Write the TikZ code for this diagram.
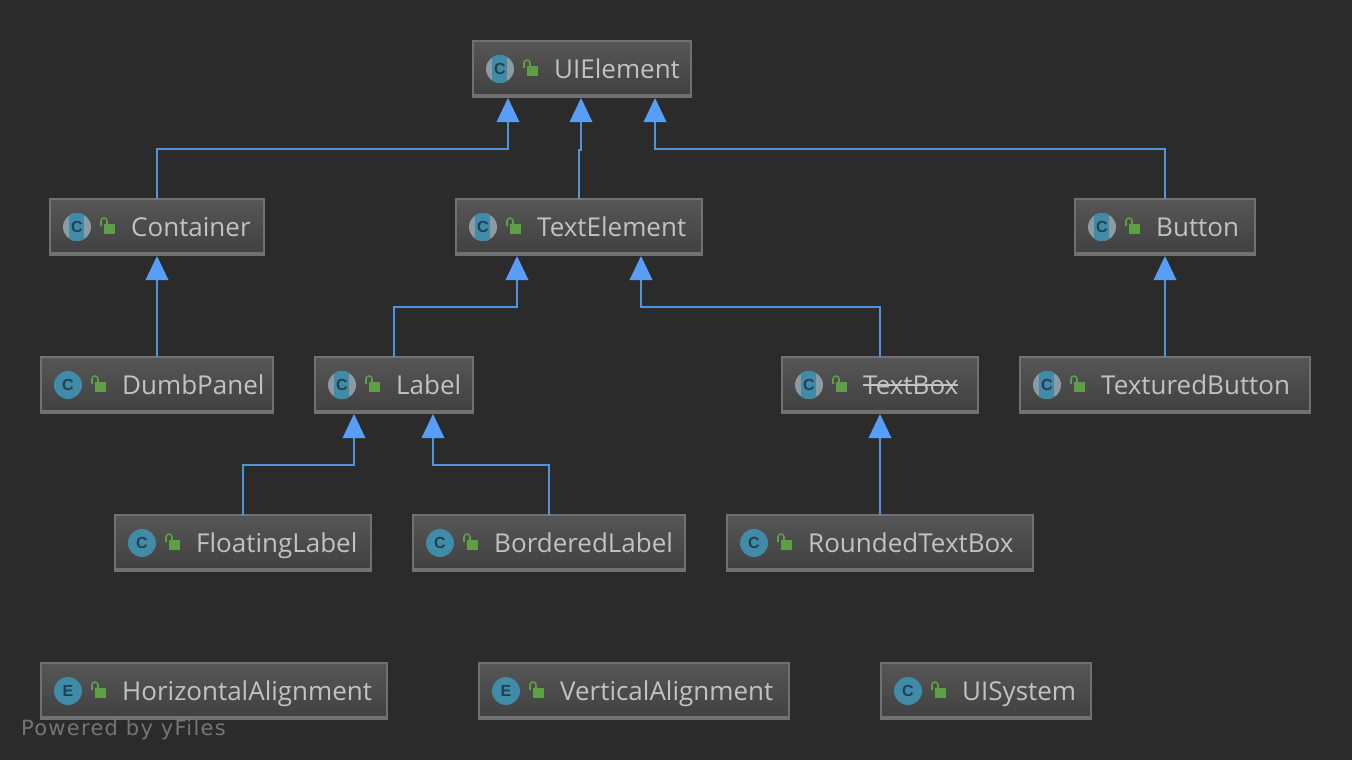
\documentclass[tikz,border=0pt]{standalone}
\usepackage{fontspec}
\setmainfont{Open Sans}
\newfontface\yfont[LetterSpace=6]{DejaVu Sans}
\newfontface\iconfont{Liberation Sans Bold}
\usetikzlibrary{arrows.meta,calc}
\definecolor{canvas}{HTML}{2B2B2B}
\definecolor{boxedge}{HTML}{717171}
\definecolor{boxtop}{HTML}{565656}
\definecolor{boxbottom}{HTML}{404040}
\definecolor{labeltext}{HTML}{C2C2C2}
\definecolor{edgeblue}{HTML}{4F94DC}
\definecolor{tipblue}{HTML}{589DF6}
\definecolor{iconteal}{HTML}{3F8BA8}
\definecolor{icongrey}{HTML}{8C9AA3}
\definecolor{iconletter}{HTML}{23404F}
\definecolor{lockgreen}{HTML}{5E9E46}
\tikzset{
  classbox/.style={rectangle, draw=boxedge, line width=2pt, top color=boxtop, bottom color=boxbottom,
                   minimum height=56pt, inner sep=0pt, outer sep=0pt},
  classname/.style={anchor=base west, inner sep=0pt, text=labeltext, font=\fontsize{26}{30}\selectfont},
  iconletter/.style={text=iconletter, inner sep=0pt, font=\iconfont\fontsize{16}{18}\selectfont},
  inherit/.style={draw=edgeblue, line width=2pt,
                  -{Triangle[length=24pt,width=23pt,line width=0pt,fill=tipblue]}},
  inheritdirect/.style={inherit, shorten >=1pt}
}
% Box with padlock and name: name, left, right, middle y, text
\newcommand{\classrow}[5]{
  \node[classbox, minimum width={(#3-#2)*1pt}] (#1) at ({(#2+#3)/2},#4) {};
  \draw[boxedge, line width=2pt] (#1.south west) ++(0,-2) -- ++({#3-#2},0);
  \fill[lockgreen] ({#2+54},{#4-3}) rectangle ({#2+65},{#4+7});
  \draw[lockgreen, line width=1.6pt] ({#2+51},{#4-1}) -- ({#2+51},{#4-6})
    arc (180:360:3) -- ({#2+57},{#4-3});
  \node[classname] (#1text) at ({#2+81},{#4+9}) {#5};
}
% Plain round icon
\newcommand{\plainicon}[4]{
  \fill[iconteal] ({#1+27},#2) circle (14);
  \node[iconletter] (#3icon) at ({#1+27},#2) {#4};
}
% Abstract round icon, grey with a band
\newcommand{\abstracticon}[4]{
  \fill[icongrey] ({#1+27},#2) circle (14);
  \begin{scope}
    \clip ({#1+27},#2) circle (14);
    \fill[iconteal] ({#1+19},{#2-14}) rectangle ({#1+34},{#2+14});
  \end{scope}
  \node[iconletter] (#3icon) at ({#1+27},#2) {#4};
}
\begin{document}
\begin{tikzpicture}[x=1pt,y=-1pt]
  \fill[canvas] (0,0) rectangle (1352,760);
  \useasboundingbox (0,0) rectangle (1352,760);

  % First row
  \classrow{uielement}{473}{691}{69}{UIElement}
  \abstracticon{473}{69}{uielement}{C}

  % Second row
  \classrow{container}{50}{264}{227}{Container}
  \abstracticon{50}{227}{container}{C}
  \classrow{textelement}{456}{702}{227}{TextElement}
  \abstracticon{456}{227}{textelement}{C}
  \classrow{button}{1075}{1255}{227}{Button}
  \abstracticon{1075}{227}{button}{C}

  % Third row
  \classrow{dumbpanel}{41}{273}{385}{DumbPanel}
  \plainicon{41}{385}{dumbpanel}{C}
  \classrow{label}{315}{473}{385}{Label}
  \abstracticon{315}{385}{label}{C}
  \classrow{textbox}{782}{978}{385}{TextBox}
  \abstracticon{782}{385}{textbox}{C}
  \draw[labeltext, line width=1.5pt] (textboxtext.west) -- (textboxtext.east);
  \classrow{texturedbutton}{1020}{1310}{385}{TexturedButton}
  \abstracticon{1020}{385}{texturedbutton}{C}

  % Fourth row
  \classrow{floatinglabel}{115}{371}{543}{FloatingLabel}
  \plainicon{115}{543}{floatinglabel}{C}
  \classrow{borderedlabel}{413}{685}{543}{BorderedLabel}
  \plainicon{413}{543}{borderedlabel}{C}
  \classrow{roundedtextbox}{727}{1033}{543}{RoundedTextBox}
  \plainicon{727}{543}{roundedtextbox}{C}

  % Loose classes at the bottom
  \classrow{horizontalalignment}{41}{387}{691}{HorizontalAlignment}
  \plainicon{41}{691}{horizontalalignment}{E}
  \classrow{verticalalignment}{479}{789}{691}{VerticalAlignment}
  \plainicon{479}{691}{verticalalignment}{E}
  \classrow{uisystem}{881}{1091}{691}{UISystem}
  \plainicon{881}{691}{uisystem}{C}

  % Arrow ends under the boxes that have more than one child.
  \coordinate (uileft) at (508,98);
  \coordinate (uimid) at (581,98);
  \coordinate (uiright) at (655,98);
  \coordinate (textleft) at (517,256);
  \coordinate (textright) at (641,256);
  \coordinate (labelleft) at (354,414);
  \coordinate (labelright) at (433,414);

  % Inheritance edges
  \draw[inherit] (container.north) -- ++(0,-50) -| (uileft);
  \draw[inherit] (textelement.north) -- ++(0,-49) -- ++(2,0) -- (uimid);
  \draw[inherit] (button.north) -- ++(0,-50) -| (uiright);
  \draw[inheritdirect] (dumbpanel.north) -- (container.south);
  \draw[inherit] (label.north) -- ++(0,-50) -| (textleft);
  \draw[inherit] (textbox.north) -- ++(0,-50) -| (textright);
  \draw[inheritdirect] (texturedbutton.north) -- (button.south);
  \draw[inherit] (floatinglabel.north) -- ++(0,-50) -| (labelleft);
  \draw[inherit] (borderedlabel.north) -- ++(0,-50) -| (labelright);
  \draw[inheritdirect] (roundedtextbox.north) -- (textbox.south);

  % Watermark
  \node[anchor=base west, inner sep=0pt, text=white!35!canvas, font=\yfont\fontsize{21}{24}\selectfont]
    (poweredby) at (21,735) {Powered by yFiles};
\end{tikzpicture}
\end{document}
